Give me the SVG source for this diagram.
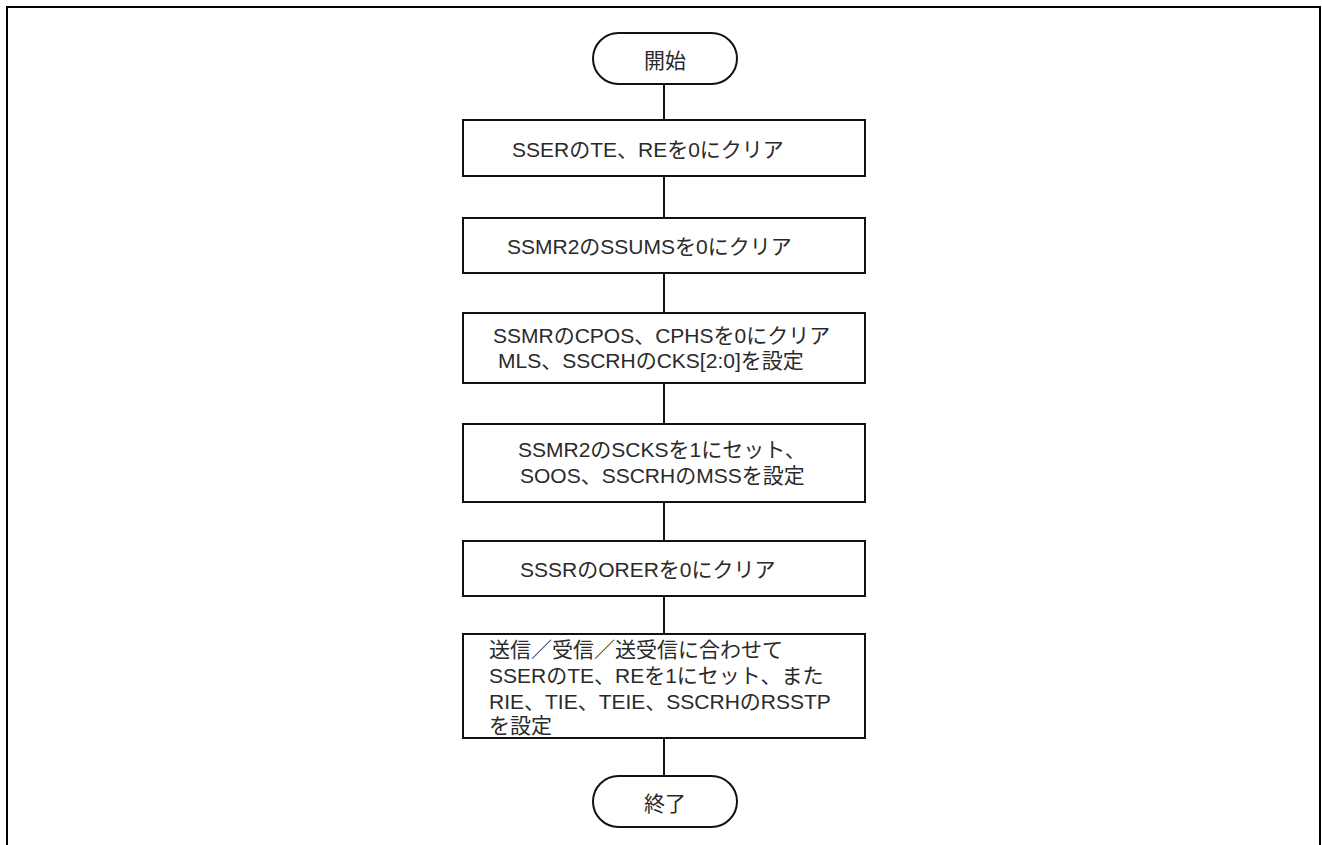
<svg xmlns="http://www.w3.org/2000/svg" width="1322" height="845" viewBox="0 0 1322 845">
<style>
.frame{fill:none;stroke:#000;stroke-width:2}
.box{fill:#fff;stroke:#111;stroke-width:2}
.con{stroke:#111;stroke-width:2;fill:none}
text{font-family:"Liberation Sans","Noto Sans CJK JP",sans-serif;font-size:21px;fill:#2a2a2a}
.c{text-anchor:middle}
</style>
<rect width="1322" height="845" fill="#fff"/>
<path class="frame" d="M7,845 V7 H1320 V845"/>
<g id="connectors">
<line class="con" x1="664" y1="84" x2="664" y2="120"/>
<line class="con" x1="664" y1="176" x2="664" y2="218"/>
<line class="con" x1="664" y1="273" x2="664" y2="313"/>
<line class="con" x1="664" y1="383" x2="664" y2="424"/>
<line class="con" x1="664" y1="502" x2="664" y2="541"/>
<line class="con" x1="664" y1="596" x2="664" y2="634"/>
<line class="con" x1="664" y1="738" x2="664" y2="776"/>
</g>
<g id="start">
<rect class="box" x="593" y="33" width="144" height="51" rx="25.5"/>
<text class="c" x="665" y="68">開始</text>
</g>
<g id="step1">
<rect class="box" x="463" y="120" width="402" height="56"/>
<text x="512" y="157">SSERのTE、REを0にクリア</text>
</g>
<g id="step2">
<rect class="box" x="463" y="218" width="402" height="55"/>
<text x="507" y="254">SSMR2のSSUMSを0にクリア</text>
</g>
<g id="step3">
<rect class="box" x="463" y="313" width="402" height="70"/>
<text x="493" y="343">SSMRのCPOS、CPHSを0にクリア</text>
<text x="498" y="368">MLS、SSCRHのCKS[2:0]を設定</text>
</g>
<g id="step4">
<rect class="box" x="463" y="424" width="402" height="78"/>
<text x="518" y="457">SSMR2のSCKSを1にセット、</text>
<text x="520" y="483">SOOS、SSCRHのMSSを設定</text>
</g>
<g id="step5">
<rect class="box" x="463" y="541" width="402" height="55"/>
<text x="520" y="577">SSSRのORERを0にクリア</text>
</g>
<g id="step6">
<rect class="box" x="463" y="634" width="402" height="104"/>
<text x="489" y="657">送信／受信／送受信に合わせて</text>
<text x="489" y="683">SSERのTE、REを1にセット、また</text>
<text x="489" y="709">RIE、TIE、TEIE、SSCRHのRSSTP</text>
<text x="489" y="733">を設定</text>
</g>
<g id="end">
<rect class="box" x="593" y="776" width="144" height="51" rx="25.5"/>
<text class="c" x="665" y="811">終了</text>
</g>
</svg>
